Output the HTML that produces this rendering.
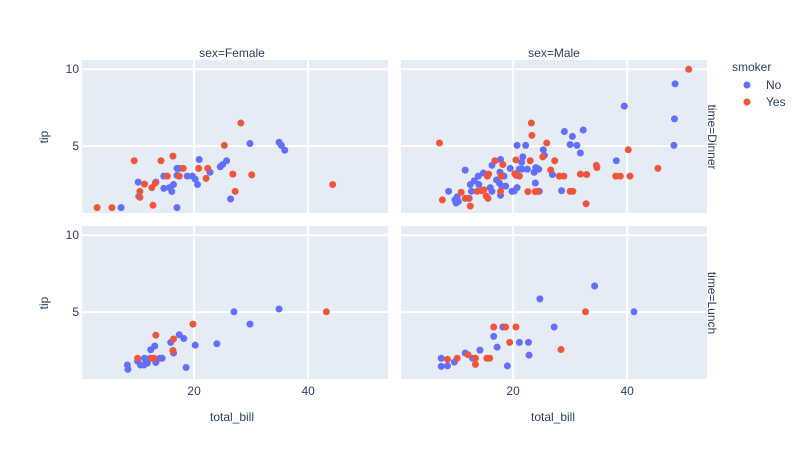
<!DOCTYPE html>
<html><head><meta charset="utf-8"><style>
body{margin:0;background:#fff;}
svg text{font-family:"Liberation Sans",Arial,sans-serif;fill:#2a3f5f;}
</style></head><body>
<svg id="chart" width="800" height="461" xmlns="http://www.w3.org/2000/svg">
<g id="panels"></g>
<text x="232" y="57" font-size="12" text-anchor="middle">sex=Female</text>
<text x="554" y="57" font-size="12" text-anchor="middle">sex=Male</text>
<text transform="translate(708,137) rotate(90)" font-size="12" text-anchor="middle">time=Dinner</text>
<text transform="translate(708,303) rotate(90)" font-size="12" text-anchor="middle">time=Lunch</text>
<text transform="translate(48,137) rotate(-90)" font-size="12" text-anchor="middle">tip</text>
<text transform="translate(48,303) rotate(-90)" font-size="12" text-anchor="middle">tip</text>
<text x="232" y="421" font-size="12" text-anchor="middle">total_bill</text>
<text x="553" y="421" font-size="12" text-anchor="middle">total_bill</text>
<g>
<text x="732" y="71" font-size="12">smoker</text>
<g><circle cx="747" cy="85" r="3.5" fill="#636efa"/><text x="766" y="89" font-size="12">No</text></g>
<g><circle cx="747" cy="102" r="3.5" fill="#EF553B"/><text x="766" y="106" font-size="12">Yes</text></g>
</g>
</svg>
<script>
// Female Dinner
const fdNoX=[7.2,10.2,10.3,13.3,14.7,14.7,15.7,16.1,16.4,17.0,17.4,17.0,17.0,18.8,19.7,20.2,20.6,20.9,22.8,24.6,25.0,25.7,26.4,29.8,34.9,35.3,35.9];
const fdNoY=[1.0,2.66,1.73,2.66,3.05,2.25,2.3,2.05,2.5,3.55,3.55,3.1,1.0,3.05,3.05,2.85,2.5,4.13,3.3,3.66,3.8,4.05,1.56,5.17,5.25,5.05,4.73];
const fdYesX=[3.0,5.6,9.5,10.5,10.5,11.3,12.6,13.2,12.8,14.2,15.3,16.3,18.1,17.4,20.8,22.1,22.4,25.3,26.8,27.2,28.2,30.1,44.3];
const fdYesY=[1.0,1.0,4.05,2.06,1.67,2.53,2.3,2.6,1.15,4.05,3.05,4.35,3.55,3.05,3.55,2.9,3.55,5.05,3.18,2.06,6.5,3.13,2.5];
// Male Dinner
const mdNoX=[8.7,9.8,10.0,10.2,10.4,10.1,12.3,11.6,12.5,13.2,13.9,14.0,14.8,12.7,16.0,16.3,16.3,17.8,17.7,18.4,17.1,17.6,18.0,18.7,17.8,19.5,19.8,20.2,20.7,20.5,20.7,22.2,21.1,21.6,21.5,21.7,22.5,23.7,24.0,24.5,23.9,24.6,25.3,25.5,26.9,28.5,29.0,30.0,30.4,31.2,31.8,32.3,38.1,39.5,48.2,48.3,48.4];
const mdNoY=[2.06,1.5,1.3,1.7,1.4,1.6,1.6,3.44,2.5,2.75,3.05,2.5,3.25,2.06,2.3,2.06,3.75,4.13,3.3,3.05,2.8,2.6,2.4,2.4,1.8,3.55,2.06,2.08,2.3,3.1,5.05,5.05,3.5,3.5,3.95,4.3,3.5,3.3,3.6,3.5,2.6,2.06,4.76,4.4,3.15,2.1,5.95,5.1,5.63,5.05,4.55,6.05,4.05,7.6,5.05,6.77,9.05];
const mdYesX=[7.1,7.6,10.9,11.6,12.2,12.5,13.7,14.5,14.9,15.5,15.7,15.3,15.6,16.8,18.2,17.9,17.8,20.3,20.8,21.1,20.5,23.0,23.2,23.3,22.6,23.9,24.3,25.2,25.9,26.6,27.3,28.1,28.9,30.0,30.5,31.8,32.9,32.8,34.6,34.7,38.0,38.8,40.5,40.2,45.4,50.8];
const mdYesY=[5.2,1.5,2.0,1.6,1.6,1.1,2.06,2.1,2.15,3.05,3.18,1.75,1.6,4.05,3.8,3.05,2.06,3.2,3.1,3.05,4.1,4.05,6.5,5.7,2.04,2.04,2.06,4.3,5.2,3.45,4.05,3.05,3.05,2.06,2.06,3.18,3.15,1.25,3.75,3.6,3.05,3.05,3.05,4.76,3.55,10.0];
// Female Lunch
const flNoX=[8.3,8.4,10.1,10.6,11.2,11.3,11.8,12.3,13.3,14.0,14.4,12.4,13.1,15.9,16.4,17.4,18.2,18.6,20.2,24.0,27.0,29.8,34.9];
const flNoY=[1.56,1.28,1.8,1.56,1.56,2.0,1.68,2.0,1.72,2.0,2.0,2.55,2.8,3.03,2.34,3.53,3.28,1.4,2.85,2.94,5.02,4.22,5.2];
const flYesX=[10.1,12.6,13.0,13.3,16.4,16.3,19.8,43.2];
const flYesY=[2.0,2.0,2.0,3.5,3.25,2.5,4.22,5.02];
// Male Lunch
const mlNoX=[7.4,7.4,8.5,9.7,11.6,12.9,14.2,16.6,17.2,18.2,19.0,21.1,22.7,22.8,24.7,27.2,34.3,41.2];
const mlNoY=[2.0,1.47,1.5,1.75,2.34,2.0,2.53,3.42,2.72,4.03,1.5,3.03,3.03,2.2,5.86,4.03,6.7,5.02];
const mlYesX=[8.5,10.2,12.1,13.4,13.4,15.4,15.9,16.6,18.7,20.5,19.4,28.4,32.7];
const mlYesY=[1.93,2.0,2.23,2.0,1.6,2.0,2.0,4.03,4.03,4.03,3.03,2.57,5.02];

const xTicks=[20,40];
const yTicks=[5,10];
const NS='http://www.w3.org/2000/svg';
const g=document.getElementById('panels');
const XMIN=0.35,XMAX=54,YMIN=0.65,YMAX=10.6;
function mk(t,a){const e=document.createElementNS(NS,t);for(const k in a)e.setAttribute(k,a[k]);return e;}
const panels=[
 {name:'panel-female-dinner',x0:82,y0:60,noX:fdNoX,noY:fdNoY,yesX:fdYesX,yesY:fdYesY,left:true,bottom:false},
 {name:'panel-male-dinner',x0:401,y0:60,noX:mdNoX,noY:mdNoY,yesX:mdYesX,yesY:mdYesY,left:false,bottom:false},
 {name:'panel-female-lunch',x0:82,y0:226,noX:flNoX,noY:flNoY,yesX:flYesX,yesY:flYesY,left:true,bottom:true},
 {name:'panel-male-lunch',x0:401,y0:226,noX:mlNoX,noY:mlNoY,yesX:mlYesX,yesY:mlYesY,left:false,bottom:true}];
const W=306,H=153;
panels.forEach(p=>{
 const sx=v=>p.x0+(v-XMIN)/(XMAX-XMIN)*W;
 const sy=v=>p.y0+H-(v-YMIN)/(YMAX-YMIN)*H;
 const pg=mk('g',{});
 
 
 g.appendChild(pg);
 const bg=mk('rect',{x:p.x0,y:p.y0,width:W,height:H,fill:'#E5ECF6'});
 
 
 pg.appendChild(bg);
 xTicks.forEach(t=>{
  const l=mk('line',{x1:sx(t),x2:sx(t),y1:p.y0,y2:p.y0+H,stroke:'#fff','stroke-width':2});
  
  
  pg.appendChild(l);
  if(p.bottom){const tx=mk('text',{x:sx(t),y:p.y0+H+16,'font-size':12,'text-anchor':'middle'});tx.textContent=t;
  
  
  pg.appendChild(tx);}
 });
 yTicks.forEach(t=>{
  const l=mk('line',{x1:p.x0,x2:p.x0+W,y1:sy(t),y2:sy(t),stroke:'#fff','stroke-width':2});
  
  
  pg.appendChild(l);
  if(p.left){const tx=mk('text',{x:p.x0-3,y:sy(t)+4,'font-size':12,'text-anchor':'end'});tx.textContent=t;
  
  
  pg.appendChild(tx);}
 });
 [[p.noX,p.noY,'#636efa','point-no'],[p.yesX,p.yesY,'#EF553B','point-yes']].forEach(([xs,ys,c,n])=>{
  xs.forEach((v,i)=>{
   const ci=mk('circle',{cx:sx(v),cy:sy(ys[i]),r:3.5,fill:c});
   
   
   pg.appendChild(ci);
  });
 });
});
</script>
</body></html>
